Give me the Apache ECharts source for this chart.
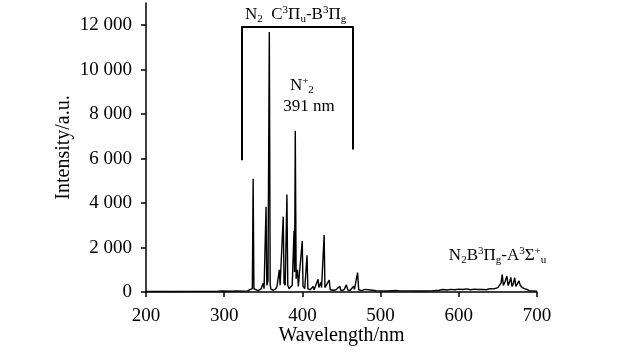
<!DOCTYPE html>
<html>
<head>
<meta charset="utf-8">
<script src="https://cdn.jsdelivr.net/npm/echarts@6/dist/echarts.min.js"></script>
<style>html,body{margin:0;padding:0;background:#fff;}#c{width:623px;height:353px;}</style>
</head>
<body>
<div id="c"></div>
<script>
// Wavelength (nm) and intensity (a.u.)
var wavelength = [200,230,260,290,296,298,310,315,317,325,330,333,334,336,337,338,340,343,347,350,351,352,353.5,354.5,356,357.7,358.8,360,363,366,367.5,369,370.5,371.5,373,375.5,376.5,378,380.2,381.3,383,385,387,389.3,390,390.9,392,393.7,394.8,397,399.8,400.8,403,405.9,407,410,413.7,415,417,420,421,423.5,424.5,427.8,428.8,431,434.3,435.5,440,443,447.8,449,453,456.3,458,461,465.5,466.5,468,470.6,472,476,480,482,490,492,494,500,510,520,522,524,535,550,565,575,580,585,590,595,600,605,610,615,620,625,630,635,640,645,650,652,654,655.5,657,659,661.5,663,664.5,666.5,668,669.5,671.5,673,674.5,677,678.5,681,684,687,690,700];
var intensity  = [30,25,30,30,50,30,35,45,35,40,50,110,60,150,5090,150,80,60,130,400,150,220,3830,300,500,11700,300,120,80,150,250,200,1000,300,350,3390,400,300,4380,300,150,200,300,2750,900,7250,600,1000,250,200,2290,250,150,1650,150,100,250,100,150,570,200,430,200,2560,200,120,540,100,80,100,260,80,90,320,90,80,260,120,160,870,100,60,120,60,80,110,60,50,45,70,110,50,50,45,50,80,110,90,120,100,130,110,140,100,130,110,120,100,150,140,200,150,400,780,300,450,720,300,400,660,250,350,640,250,300,500,300,200,150,120,60,40];

var xMin = 200, xMax = 700, xInterval = 100;
var yMin = 0, yMax = 13000;
var yTickValues = [0,2000,4000,6000,8000,10000,12000];
var yTickLabels = ['0','2 000','4 000','6 000','8 000','10 000','12 000'];

// annotation bracket (data coordinates)
var bracketLeftX = 322.6, bracketRightX = 464.6, bracketTopY = 11950;
var bracketLeftBottom = 5930, bracketRightBottom = 6410;

var FONT = "'Liberation Serif','Times New Roman',serif";
var points = wavelength.map(function(w,i){return [w,intensity[i]];});

var chart = echarts.init(document.getElementById('c'), null, {renderer:'canvas'});
chart.setOption({
  animation:false,
  backgroundColor:'#ffffff',
  grid:{left:146, right:86, top:3, bottom:61, containLabel:false},
  xAxis:{
    type:'value', min:xMin, max:xMax, interval:xInterval,
    name:'Wavelength/nm', nameLocation:'middle', nameGap:34, nameMoveOverlap:false,
    nameTextStyle:{fontFamily:FONT, fontSize:20, color:'#000'},
    axisLine:{show:true, onZero:false, lineStyle:{color:'#000', width:1.5}},
    axisTick:{show:true, length:5, lineStyle:{color:'#000', width:1.5}},
    axisLabel:{fontFamily:FONT, fontSize:19, color:'#000', margin:15},
    splitLine:{show:false}
  },
  yAxis:{
    type:'value', min:yMin, max:yMax,
    name:'Intensity/a.u.', nameLocation:'middle', nameGap:72, nameRotate:90, nameMoveOverlap:false,
    nameTextStyle:{fontFamily:FONT, fontSize:20, color:'#000'},
    axisLine:{show:true, lineStyle:{color:'#000', width:1.5}},
    axisTick:{show:true, length:5, customValues:yTickValues, lineStyle:{color:'#000', width:1.5}},
    axisLabel:{fontFamily:FONT, fontSize:19, color:'#000', margin:14, customValues:yTickValues,
      formatter:function(v){var i=yTickValues.indexOf(v); return i>=0?yTickLabels[i]:'';}},
    splitLine:{show:false}
  },
  series:[{
    type:'line', data:points, symbol:'none', smooth:false,
    lineStyle:{color:'#000', width:1.4},
    markLine:{
      silent:true, symbol:['none','none'], animation:false,
      label:{show:false},
      lineStyle:{color:'#000', width:2, type:'solid'},
      data:[
        [{coord:[bracketLeftX,bracketLeftBottom]},{coord:[bracketLeftX,bracketTopY]}],
        [{coord:[bracketLeftX,bracketTopY]},{coord:[bracketRightX,bracketTopY]}],
        [{coord:[bracketRightX,bracketTopY]},{coord:[bracketRightX,bracketRightBottom]}]
      ]
    }
  }]
});

var rich = {
  sup:{fontFamily:FONT, fontSize:11, lineHeight:11, verticalAlign:'top', fill:'#000'},
  sub:{fontFamily:FONT, fontSize:11, lineHeight:11, verticalAlign:'bottom', fill:'#000'}
};
function label(text, dataX, dataY){
  var p = chart.convertToPixel({gridIndex:0}, [dataX, dataY]);
  return {type:'text', x:p[0], y:p[1], silent:true,
    style:{text:text, rich:rich, fontFamily:FONT, fontSize:17, lineHeight:20, fill:'#000',
      align:'left', verticalAlign:'middle'}};
}
chart.setOption({graphic:[
  label('N{sub|2}  C{sup|3}Π{sub|u}-B{sup|3}Π{sub|g}', 326.6, 12480),
  label('N{sup|+}{sub|2}', 384.0, 9280),
  label('391 nm', 375.4, 8360),
  label('N{sub|2}B{sup|3}Π{sub|g}-A{sup|3}Σ{sup|+}{sub|u}', 587.3, 1620)
]});
</script>
</body>
</html>
